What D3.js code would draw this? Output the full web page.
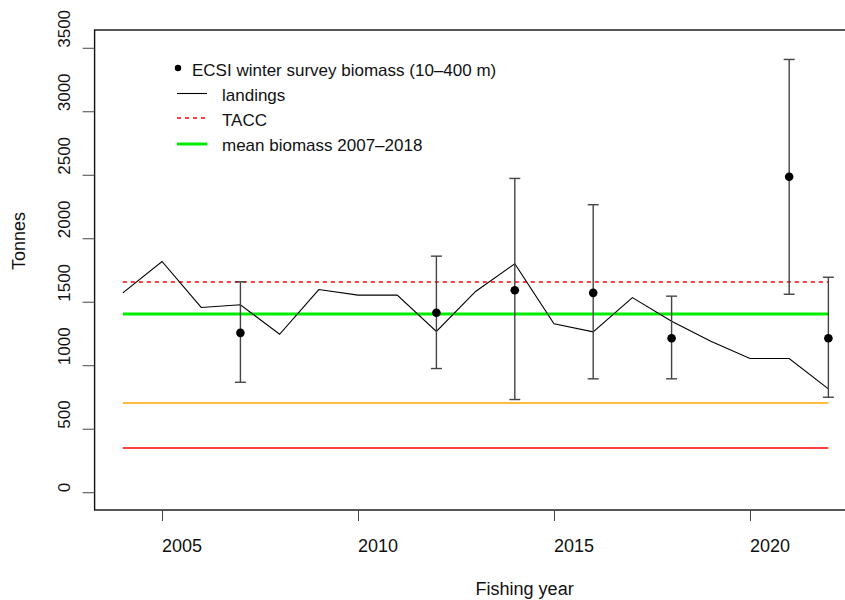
<!DOCTYPE html>
<html>
<head>
<meta charset="utf-8">
<script src="https://cdn.jsdelivr.net/npm/d3@7"></script>
<style>
  html, body { margin: 0; padding: 0; background: #fff; }
  svg { display: block; font-family: "Liberation Sans", Arial, sans-serif; }
</style>
</head>
<body>
<svg id="chart" width="845" height="600"></svg>
<script>
// ---- data ----
const landingYears = [2004,2005,2006,2007,2008,2009,2010,2011,2012,2013,2014,2015,2016,2017,2018,2019,2020,2021,2022];
const landings     = [1570,1817,1455,1476,1244,1596,1552,1552,1266,1581,1799,1326,1263,1533,1347,1189,1053,1053,814];
const surveyYears  = [2007,2012,2014,2016,2018,2021,2022];
const surveyBiomass= [1255,1413,1591,1570,1213,2484,1213];
const surveyLower  = [866, 974, 730, 893, 893, 1559,748];
const surveyUpper  = [1657,1859,2471,2264,1544,3408,1693];
const tacc = 1657;
const meanBiomass = 1407;
const softLimit = meanBiomass / 2;
const hardLimit = meanBiomass / 4;
const xTicks = [2005, 2010, 2015, 2020];
const yTicks = [0, 500, 1000, 1500, 2000, 2500, 3000, 3500];
const legendLabels = ["ECSI winter survey biomass (10\u2013400 m)", "landings", "TACC", "mean biomass 2007\u20132018"];

// ---- layout ----
const svg = d3.select("#chart");
const plot = { left: 94.6, right: 856.6, top: 30, bottom: 510 };
const xr = [2004, 2022], yr = [0, 3500];
const xpad = (xr[1]-xr[0])*0.04, ypad = (yr[1]-yr[0])*0.04;
const x = d3.scaleLinear().domain([xr[0]-xpad, xr[1]+xpad]).range([plot.left, plot.right]);
const y = d3.scaleLinear().domain([yr[0]-ypad, yr[1]+ypad]).range([plot.bottom, plot.top]);
const snap = v => Math.round(v);

// reference lines
const hlines = [
  { v: hardLimit, color: "#ff0000", w: 1.5, dash: null },
  { v: softLimit, color: "#ffa500", w: 1.4, dash: null },
  { v: tacc, color: "#ff0000", w: 1.4, dash: "4,4" },
  { v: meanBiomass, color: "#00ee00", w: 3, dash: null }
];
svg.append("g").selectAll("line").data(hlines).join("line")
  .attr("x1", x(xr[0])).attr("x2", x(xr[1]))
  .attr("y1", d => snap(y(d.v))).attr("y2", d => snap(y(d.v)))
  .attr("stroke", d => d.color).attr("stroke-width", d => d.w)
  .attr("stroke-dasharray", d => d.dash);

// landings
svg.append("path")
  .datum(landingYears.map((yr, i) => [yr, landings[i]]))
  .attr("fill", "none").attr("stroke", "#000").attr("stroke-width", 1.1)
  .attr("d", d3.line().x(d => x(d[0])).y(d => y(d[1])));

// error bars
const survey = surveyYears.map((yr, i) => ({ yr, v: surveyBiomass[i], lo: surveyLower[i], hi: surveyUpper[i] }));
const eb = svg.append("g").attr("stroke", "#444").attr("stroke-width", 1.4);
eb.selectAll(".v").data(survey).join("line")
  .attr("x1", d => x(d.yr)).attr("x2", d => x(d.yr))
  .attr("y1", d => y(d.lo)).attr("y2", d => y(d.hi));
eb.selectAll(".lo").data(survey).join("line")
  .attr("x1", d => x(d.yr) - 5.5).attr("x2", d => x(d.yr) + 5.5)
  .attr("y1", d => y(d.lo)).attr("y2", d => y(d.lo));
eb.selectAll(".hi").data(survey).join("line")
  .attr("x1", d => x(d.yr) - 5.5).attr("x2", d => x(d.yr) + 5.5)
  .attr("y1", d => y(d.hi)).attr("y2", d => y(d.hi));
svg.append("g").selectAll("circle").data(survey).join("circle")
  .attr("cx", d => x(d.yr)).attr("cy", d => y(d.v)).attr("r", 4.3).attr("fill", "#000");

// box
svg.append("rect")
  .attr("x", plot.left).attr("y", plot.top)
  .attr("width", plot.right - plot.left).attr("height", plot.bottom - plot.top)
  .attr("fill", "none").attr("stroke", "#111").attr("stroke-width", 1.4);

// x axis
const xAxis = svg.append("g").attr("transform", `translate(0,${plot.bottom})`)
  .call(d3.axisBottom(x).tickValues(xTicks).tickSize(11).tickFormat(""));
xAxis.select(".domain").remove();
xAxis.selectAll(".tick line").attr("stroke", "#444");
svg.append("g").selectAll("text").data(xTicks).join("text")
  .attr("x", d => x(d)).attr("y", 552)
  .attr("font-size", 18).attr("fill", "#111")
  .text(d => d);

// y axis
const yAxis = svg.append("g").attr("transform", `translate(${plot.left},0)`)
  .call(d3.axisLeft(y).tickValues(yTicks).tickSize(12).tickFormat(""));
yAxis.select(".domain").remove();
yAxis.selectAll(".tick line").attr("stroke", "#444");
svg.append("g").selectAll("text").data(yTicks).join("text")
  .attr("transform", d => `translate(70,${y(d)}) rotate(-90)`)
  .attr("font-size", 17).attr("fill", "#111")
  .text(d => d);

// axis titles
svg.append("text").attr("x", (plot.left + plot.right) / 2).attr("y", 595)
  .attr("font-size", 18).attr("fill", "#111").text("Fishing year");
svg.append("text").attr("transform", `translate(25,${(plot.top + plot.bottom) / 2}) rotate(-90)`)
  .attr("font-size", 18).attr("fill", "#111").text("Tonnes");

// legend
const lg = svg.append("g").attr("font-size", 17).attr("fill", "#111");
lg.append("circle").attr("cx", 178).attr("cy", 68).attr("r", 3.2).attr("fill", "#000");
lg.append("text").attr("x", 192).attr("y", 76).text(legendLabels[0]);
const legendLines = [
  { label: legendLabels[1], color: "#000", w: 1.1, dash: null, ly: 93.5, ty: 101 },
  { label: legendLabels[2], color: "#ff0000", w: 1.4, dash: "4,4", ly: 118, ty: 126 },
  { label: legendLabels[3], color: "#00ee00", w: 3, dash: null, ly: 144, ty: 151 }
];
lg.selectAll(".ll").data(legendLines).join("line")
  .attr("x1", 177).attr("x2", 207).attr("y1", d => d.ly).attr("y2", d => d.ly)
  .attr("stroke", d => d.color).attr("stroke-width", d => d.w).attr("stroke-dasharray", d => d.dash);
lg.selectAll(".lt").data(legendLines).join("text")
  .attr("x", 222).attr("y", d => d.ty).text(d => d.label);
</script>
</body>
</html>
